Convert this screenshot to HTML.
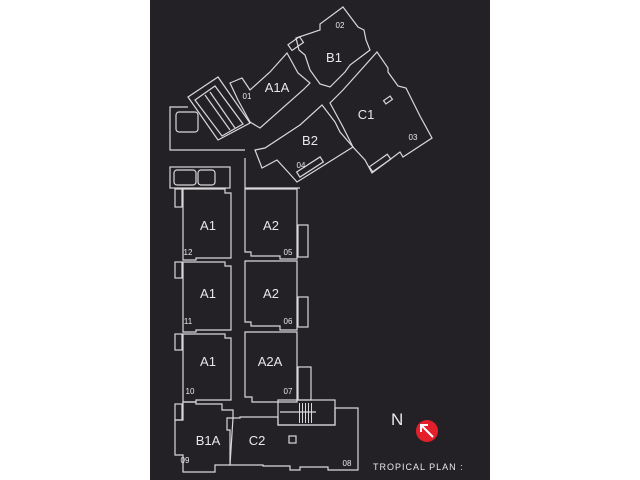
<!DOCTYPE html>
<html><head><style>
html,body{margin:0;padding:0;background:#fff;width:640px;height:480px;overflow:hidden}
svg{display:block}
text{font-family:"Liberation Sans",sans-serif;fill:#e8e8e8}
</style></head><body>
<svg width="640" height="480" viewBox="0 0 640 480">
<rect x="150" y="0" width="340" height="480" fill="#232126"/>
<g fill="none" stroke="#d8d8d8" stroke-width="1.2">
<!-- B1 -->
<polygon points="343,7 358,27 364,30 366,40 370,50 350,65 345,72 330,87 320,84 310,70 305,55 299,50 296,38 320,30 320,24"/>
<rect x="289" y="40" width="14" height="7" transform="rotate(-35 296 44)"/>
<!-- C1 -->
<polygon points="377,52 388,68 388,72 398,86 406,88 417,110 420,116 432,138 403,157 400,152 372,173 365,160 353,147 343,127 330,103 337,96 343,90"/>
<rect x="384" y="98" width="8" height="4" transform="rotate(-35 388 100)"/>
<rect x="369" y="160" width="22" height="6" transform="rotate(-35 380 163)"/>
<!-- A1A -->
<polygon points="287,53 298,73 310,83 303,90 260,128 250,122 238,100 230,83 242,78 250,90 270,72"/>
<!-- B2 -->
<polygon points="322,105 335,122 340,132 353,147 297,182 288,172 277,160 262,168 255,150 265,148 300,125"/>
<rect x="296" y="164" width="28" height="6" transform="rotate(-33 310 167)"/>
<!-- stair -->
<polygon points="188,97 218,77 250,123 218,140"/>
<polygon points="195,100 215,86 243,124 222,136"/>
<line x1="205" y1="95" x2="230" y2="130"/>
<line x1="210" y1="92" x2="235" y2="128"/>
<!-- left court -->
<polyline points="188,107 170,107 170,150 245,150"/>
<rect x="176" y="112" width="22" height="20" rx="3"/>
<rect x="170" y="167" width="60" height="21"/>
<rect x="174" y="170" width="22" height="15" rx="3"/>
<rect x="198" y="170" width="17" height="15" rx="3"/>
<polyline points="245,158 245,188 300,188"/>
<!-- A1 column -->
<polygon points="183,189 225,189 225,193 231,193 231,258 196,258 196,260 183,260"/>
<polygon points="183,262 225,262 225,266 231,266 231,330 196,330 196,332 183,332"/>
<polygon points="183,334 225,334 225,338 231,338 231,400 196,400 196,402 183,402"/>
<rect x="175" y="189" width="7" height="18"/>
<rect x="175" y="262" width="7" height="16"/>
<rect x="175" y="334" width="7" height="16"/>
<!-- A2 column -->
<polygon points="245,189 297,189 297,259 280,259 280,256 251,256 251,252 245,252"/>
<polygon points="245,261 297,261 297,330 280,330 280,326 251,326 251,322 245,322"/>
<polygon points="245,332 297,332 297,402 252,402 252,397 245,397"/>
<rect x="298" y="225" width="10" height="32"/>
<rect x="298" y="297" width="10" height="30"/>
<rect x="298" y="367" width="13" height="33"/>
<!-- B1A -->
<polygon points="183,402 196,402 196,404 222,404 222,410 233,410 233,418 227,418 227,430 230,430 230,465 215,465 215,472 183,472 183,455 175,455 175,420 183,420"/>
<rect x="175" y="404" width="7" height="16"/>
<!-- C2 -->
<polygon points="233,418 240,418 240,417 278,417 278,425 335,425 335,408 358,408 358,470 328,470 328,467 300,467 300,470 290,470 290,466 263,466 263,465 230,465"/>
<rect x="278" y="400" width="57" height="25"/>
<line x1="280" y1="412" x2="316" y2="412"/>
<rect x="289" y="436" width="7" height="7"/>
</g>
<g fill="#d8d8d8">
<rect x="299" y="403" width="1" height="20"/><rect x="302" y="403" width="1" height="20"/><rect x="305" y="403" width="1" height="20"/><rect x="308" y="403" width="1" height="20"/><rect x="311" y="403" width="1" height="20"/>
</g>
<g font-size="13" text-anchor="middle">
<text x="334" y="62">B1</text>
<text x="277" y="92">A1A</text>
<text x="366" y="119">C1</text>
<text x="310" y="145">B2</text>
<text x="208" y="230">A1</text>
<text x="271" y="230">A2</text>
<text x="208" y="298">A1</text>
<text x="271" y="298">A2</text>
<text x="208" y="366">A1</text>
<text x="270" y="366">A2A</text>
<text x="208" y="445">B1A</text>
<text x="257" y="445">C2</text>
</g>
<g font-size="8" text-anchor="middle">
<text x="340" y="28">02</text>
<text x="247" y="99">01</text>
<text x="413" y="140">03</text>
<text x="301" y="168">04</text>
<text x="188" y="255">12</text>
<text x="288" y="255">05</text>
<text x="188" y="324">11</text>
<text x="288" y="324">06</text>
<text x="190" y="394">10</text>
<text x="288" y="394">07</text>
<text x="185" y="463">09</text>
<text x="347" y="466">08</text>
</g>
<text x="391" y="425" font-size="17">N</text>
<circle cx="427" cy="431" r="11" fill="#e3202a"/>
<g stroke="#fff" stroke-width="2" fill="none"><line x1="433" y1="437" x2="421" y2="425"/><polyline points="421,432 421,425 428,425"/></g>
<text x="373" y="470" font-size="9" letter-spacing="1">TROPICAL PLAN :</text>
</svg>
</body></html>
